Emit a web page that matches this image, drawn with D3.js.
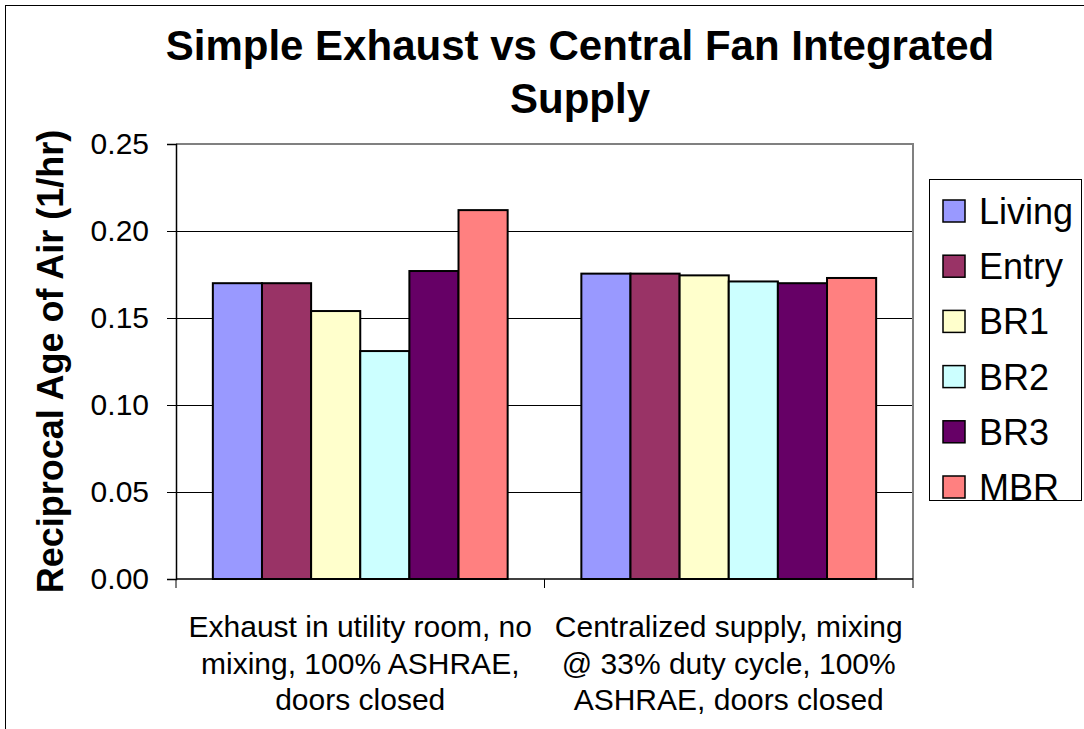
<!DOCTYPE html>
<html lang="en">
<head>
    <meta charset="UTF-8">
    <title>Simple Exhaust vs Central Fan Integrated Supply</title>
    <script src="https://d3js.org/d3.v7.min.js"></script>
    <style>
        body { margin: 0; background: #ffffff; }
        svg { display: block; font-family: "Liberation Sans", Arial, sans-serif; }
    </style>
</head>
<body>
    <div id="chart"></div>

    <script>
        // Data
        const categories = [
            ["Exhaust in utility room, no", "mixing, 100% ASHRAE,", "doors closed"],
            ["Centralized supply, mixing", "@ 33% duty cycle, 100%", "ASHRAE, doors closed"]
        ];
        const rooms = ["Living", "Entry", "BR1", "BR2", "BR3", "MBR"];
        const exhaustValues = [0.170, 0.170, 0.154, 0.131, 0.177, 0.212];
        const cfisValues = [0.1755, 0.1755, 0.1745, 0.171, 0.170, 0.173];
        const yTicks = [0, 0.05, 0.10, 0.15, 0.20, 0.25];
        const roomColors = ["#9999FF", "#993366", "#FFFFCC", "#CCFFFF", "#660066", "#FF8080"];

        const width = 1084;
        const height = 729;
        const plot = { left: 176, right: 913, top: 144, bottom: 579 };

        const svg = d3.select("#chart")
            .append("svg")
            .attr("width", width)
            .attr("height", height);

        // chart area border
        svg.append("rect")
            .attr("x", 5.5).attr("y", 5.5)
            .attr("width", 1200).attr("height", 1000)
            .attr("fill", "#fff")
            .attr("stroke", "#000")
            .attr("stroke-width", 1);

        // Title
        const title = svg.append("text")
            .attr("text-anchor", "middle")
            .attr("font-weight", "bold")
            .attr("font-size", 42);
        title.append("tspan").attr("x", 580).attr("y", 60).text("Simple Exhaust vs Central Fan Integrated");
        title.append("tspan").attr("x", 580).attr("y", 113).text("Supply");

        // Scales
        const y = d3.scaleLinear().domain([0, 0.25]).range([plot.bottom, plot.top]);
        const x0 = d3.scaleBand()
            .domain(d3.range(categories.length))
            .range([plot.left, plot.right])
            .padding(0);
        const x1 = d3.scaleBand()
            .domain(rooms)
            .range([0, x0.bandwidth()])
            .paddingInner(0)
            .paddingOuter(0.75);
        const color = d3.scaleOrdinal().domain(rooms).range(roomColors);

        // Gridlines
        svg.append("g")
            .selectAll("line")
            .data(yTicks.filter(t => t > 0 && t < 0.25))
            .join("line")
            .attr("x1", plot.left).attr("x2", plot.right)
            .attr("y1", d => Math.round(y(d)) + 0.5).attr("y2", d => Math.round(y(d)) + 0.5)
            .attr("stroke", "#000")
            .attr("stroke-width", 1);

        // plot area top / right border (grey)
        svg.append("path")
            .attr("d", `M${plot.left},${plot.top}H${plot.right}V${plot.bottom}`)
            .attr("fill", "none")
            .attr("stroke", "#808080")
            .attr("stroke-width", 2);

        // Bars
        const seriesByCat = [exhaustValues, cfisValues];
        const groups = svg.append("g")
            .selectAll("g")
            .data(seriesByCat)
            .join("g")
            .attr("transform", (d, i) => `translate(${x0(i)},0)`);

        groups.selectAll("rect")
            .data(vals => vals.map((v, j) => ({ room: rooms[j], value: v })))
            .join("rect")
            .attr("x", d => x1(d.room))
            .attr("y", d => y(d.value))
            .attr("width", x1.bandwidth())
            .attr("height", d => y(0) - y(d.value))
            .attr("fill", d => color(d.room))
            .attr("stroke", "#000")
            .attr("stroke-width", 2);

        // Y axis
        const yAxis = svg.append("g")
            .attr("transform", `translate(${plot.left},0)`)
            .call(d3.axisLeft(y).tickValues(yTicks).tickFormat(d3.format(".2f")).tickSize(9).tickPadding(18));
        yAxis.select(".domain").attr("stroke", "#000").attr("stroke-width", 1.5);
        yAxis.selectAll(".tick line").attr("stroke", "#000");
        yAxis.selectAll(".tick text")
            .attr("font-size", 30)
            .attr("font-family", "Liberation Sans, Arial, sans-serif")
            .attr("fill", "#000");

        // X axis
        const xAxis = svg.append("g")
            .attr("transform", `translate(0,${plot.bottom})`);
        xAxis.append("line")
            .attr("x1", plot.left).attr("x2", plot.right)
            .attr("stroke", "#000").attr("stroke-width", 1.5);
        xAxis.selectAll(".xtick")
            .data([plot.left, x0(1), plot.right])
            .join("line")
            .attr("class", "xtick")
            .attr("x1", d => d).attr("x2", d => d)
            .attr("y1", 0).attr("y2", 9)
            .attr("stroke", "#000");

        const xLabels = svg.append("g")
            .selectAll("text")
            .data(categories)
            .join("text")
            .attr("text-anchor", "middle")
            .attr("font-size", 30)
            .attr("fill", "#000");
        xLabels.selectAll("tspan")
            .data((lines, i) => lines.map(l => ({ l, i })))
            .join("tspan")
            .attr("x", d => x0(d.i) + x0.bandwidth() / 2)
            .attr("y", (d, k) => 637 + k * 36.7)
            .text(d => d.l);

        // Y axis title
        svg.append("text")
            .attr("transform", `translate(63,${(plot.top + plot.bottom) / 2}) rotate(-90)`)
            .attr("text-anchor", "middle")
            .attr("font-weight", "bold")
            .attr("font-size", 36)
            .text("Reciprocal Age of Air (1/hr)");

        // Legend
        const legend = svg.append("g");
        legend.append("rect")
            .attr("x", 929.5).attr("y", 179.5)
            .attr("width", 152).attr("height", 321)
            .attr("fill", "#fff")
            .attr("stroke", "#000")
            .attr("stroke-width", 1);

        const items = legend.selectAll(".item")
            .data(rooms)
            .join("g")
            .attr("class", "item")
            .attr("transform", (d, i) => `translate(0,${211 + i * 55.2})`);
        items.append("rect")
            .attr("x", 943).attr("y", -11)
            .attr("width", 22).attr("height", 22)
            .attr("fill", d => color(d))
            .attr("stroke", "#000")
            .attr("stroke-width", 1.5);
        items.append("text")
            .attr("x", 979)
            .attr("y", 0)
            .attr("dy", "0.36em")
            .attr("font-size", 36)
            .text(d => d);
    </script>
</body>
</html>
